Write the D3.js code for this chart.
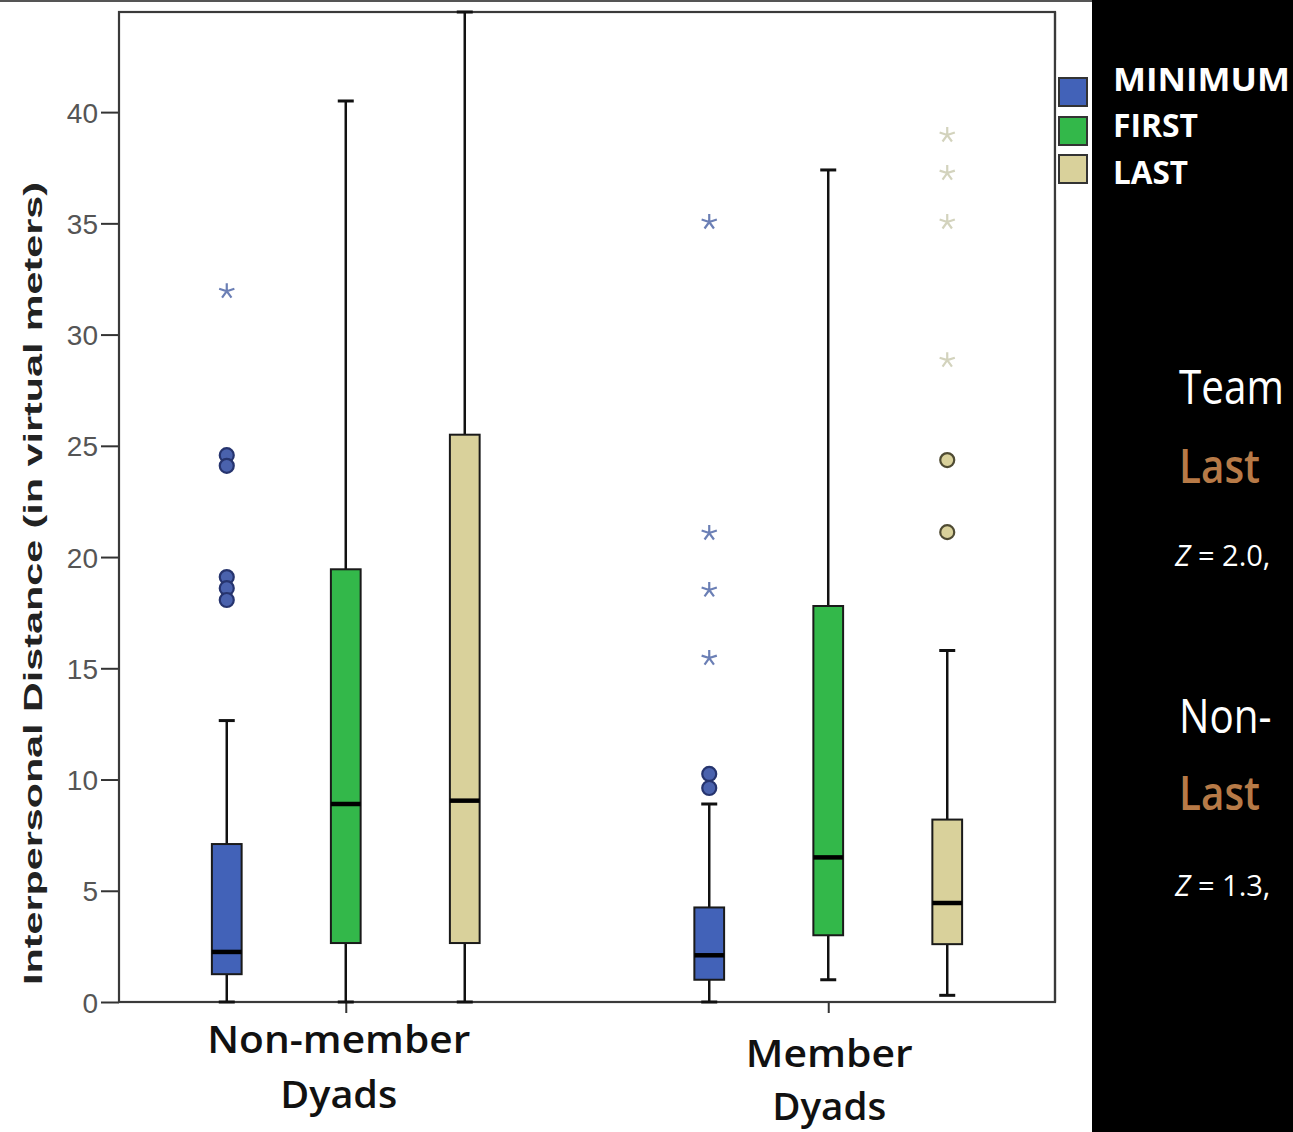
<!DOCTYPE html>
<html>
<head>
<meta charset="utf-8">
<script src="https://cdn.jsdelivr.net/npm/d3@7"></script>
<style>
  html, body { margin: 0; padding: 0; background: #000; }
  svg { display: block; }
</style>
</head>
<body>
<svg id="chart" width="1293" height="1132"></svg>
<script>
// Dyad groups on the x axis (each label is split over two lines)
const groups = ["Non-member Dyads", "Member Dyads"];
const groupLines = [["Non-member", "Dyads"], ["Member", "Dyads"]];

// Measurement series, one box per series within each group
const seriesNames = ["MINIMUM", "FIRST", "LAST"];
const seriesColors = ["#4262b8", "#33b84a", "#d9d19b"];

// Box statistics per group: [lower whisker, Q1, median, Q3, upper whisker]
const minimumBox = [[0, 1.25, 2.25, 7.1, 12.65], [0, 1.0, 2.1, 4.25, 8.9]];
const firstBox   = [[0, 2.65, 8.9, 19.45, 40.5], [1.0, 3.0, 6.5, 17.8, 37.4]];
const lastBox    = [[0, 2.65, 9.05, 25.5, 44.5], [0.3, 2.6, 4.45, 8.2, 15.8]];

// Outliers (circles) and extreme values (stars) per group
const minimumOutliers = [[24.58, 24.1, 19.1, 18.6, 18.07], [10.25, 9.62]];
const minimumExtremes = [[31.95], [35.06, 21.08, 18.52, 15.46]];
const firstOutliers   = [[], []];
const firstExtremes   = [[], []];
const lastOutliers    = [[], [24.36, 21.12]];
const lastExtremes    = [[], [38.97, 37.26, 35.06, 28.85]];

// Y axis ticks
const yTicks = [0, 5, 10, 15, 20, 25, 30, 35, 40];
const yMax = 44.5;
const yTitle = "Interpersonal Distance (in virtual meters)";

// Side notes on the dark panel
const noteLines = [
  { text: "Team", kind: "head" },
  { text: "Last", kind: "accent" },
  { z: "2.0,", kind: "stat" },
  { text: "Non-", kind: "head" },
  { text: "Last", kind: "accent" },
  { z: "1.3,", kind: "stat" }
];

const boxes = [minimumBox, firstBox, lastBox];
const outliers = [minimumOutliers, firstOutliers, lastOutliers];
const extremes = [minimumExtremes, firstExtremes, lastExtremes];

const svg = d3.select("#chart");
const W = 1293, H = 1132;
const plot = { left: 119, right: 1055, top: 12, bottom: 1002 };

// Backgrounds: white chart area, black slide panel on the right
svg.append("rect").attr("x", 0).attr("y", 0).attr("width", W).attr("height", H).attr("fill", "#000");
svg.append("rect").attr("x", 0).attr("y", 0).attr("width", 1092).attr("height", H).attr("fill", "#fff");
svg.append("line").attr("x1", 0).attr("x2", 1092).attr("y1", 1).attr("y2", 1)
  .attr("stroke", "#555").attr("stroke-width", 2);

// Scales
const x = d3.scalePoint().domain(groups).range([plot.left, plot.right]).padding(0.47);
const inner = d3.scaleBand().domain(seriesNames).range([-178.5, 178.5]);
const y = d3.scaleLinear().domain([0, yMax]).range([plot.bottom, plot.top]);
const boxW = inner.bandwidth() * 0.25;
const capW = 16;

// Y axis
const yAxis = svg.append("g")
  .attr("transform", `translate(${plot.left},0)`)
  .call(d3.axisLeft(y).tickValues(yTicks).tickSize(18).tickPadding(3).tickFormat(d3.format("d")));
yAxis.select(".domain").remove();
yAxis.selectAll(".tick line").attr("stroke", "#333").attr("stroke-width", 2);
yAxis.selectAll(".tick text")
  .attr("fill", "#555")
  .style("font-family", "'Liberation Sans', Arial, sans-serif")
  .style("font-size", "28px")
  .attr("dy", "0.36em");

// X axis ticks
const xAxis = svg.append("g")
  .attr("transform", `translate(0,${plot.bottom})`)
  .call(d3.axisBottom(x).tickSize(11).tickFormat(""));
xAxis.select(".domain").remove();
xAxis.selectAll(".tick line").attr("stroke", "#333").attr("stroke-width", 2);

// Plot frame
svg.append("rect")
  .attr("x", plot.left).attr("y", plot.top)
  .attr("width", plot.right - plot.left).attr("height", plot.bottom - plot.top)
  .attr("fill", "none").attr("stroke", "#3a3a3a").attr("stroke-width", 2.2);

// Y axis title
svg.append("text")
  .attr("transform", `translate(42,${(182 + 985) / 2}) rotate(-90)`)
  .attr("text-anchor", "middle")
  .attr("textLength", 803).attr("lengthAdjust", "spacingAndGlyphs")
  .style("font-family", "'Liberation Sans', Arial, sans-serif")
  .style("font-weight", "bold")
  .style("font-size", "26px")
  .attr("fill", "#222")
  .text(yTitle);

// Category labels (two lines each)
const labelBaselines = [[1053, 1108], [1067, 1120]];
const labelWidths = [[263, 117], [167, 114]];
groups.forEach((g, gi) => {
  groupLines[gi].forEach((line, li) => {
    svg.append("text")
      .attr("x", x(g) - 7 + gi * 8)
      .attr("y", labelBaselines[gi][li])
      .attr("text-anchor", "middle")
      .attr("textLength", labelWidths[gi][li]).attr("lengthAdjust", "spacingAndGlyphs")
      .style("font-family", "'Open Sans', sans-serif")
      .style("font-weight", 600)
      .style("font-size", "38px")
      .attr("fill", "#111")
      .text(line);
  });
});

// Five-armed asterisk used for extreme values
const asterisk = {
  draw(ctx, size) {
    const r = Math.sqrt(size) / 2;
    for (let k = 0; k < 5; k++) {
      const a = -Math.PI / 2 + k * 2 * Math.PI / 5;
      ctx.moveTo(0, 0);
      ctx.lineTo(r * Math.cos(a), r * Math.sin(a));
    }
  }
};
const starPath = d3.symbol().type(asterisk).size(256)();
const starColors = ["#6b7fb5", "#6fb87a", "#d3d3bd"];
const circleStroke = ["#26346e", "#1f6a2b", "#4f4b33"];

// Boxes
groups.forEach((g, gi) => {
  seriesNames.forEach((s, si) => {
    const [lo, q1, med, q3, hi] = boxes[si][gi];
    const cx = x(g) + inner(s) + inner.bandwidth() / 2;
    const grp = svg.append("g");

    // whiskers
    grp.append("line").attr("x1", cx).attr("x2", cx).attr("y1", y(hi)).attr("y2", y(q3))
      .attr("stroke", "#111").attr("stroke-width", 2.5);
    grp.append("line").attr("x1", cx).attr("x2", cx).attr("y1", y(q1)).attr("y2", y(lo))
      .attr("stroke", "#111").attr("stroke-width", 2.5);
    [lo, hi].forEach(v => {
      grp.append("line").attr("x1", cx - capW / 2).attr("x2", cx + capW / 2)
        .attr("y1", y(v)).attr("y2", y(v))
        .attr("stroke", "#111").attr("stroke-width", 3);
    });

    // box
    grp.append("rect")
      .attr("x", cx - boxW / 2).attr("y", y(q3))
      .attr("width", boxW).attr("height", y(q1) - y(q3))
      .attr("fill", seriesColors[si]).attr("stroke", "#1a1a1a").attr("stroke-width", 2);
    grp.append("line")
      .attr("x1", cx - boxW / 2).attr("x2", cx + boxW / 2)
      .attr("y1", y(med)).attr("y2", y(med))
      .attr("stroke", "#000").attr("stroke-width", 4.5);

    // outliers
    grp.selectAll("circle.out").data(outliers[si][gi]).join("circle")
      .attr("class", "out")
      .attr("cx", cx).attr("cy", d => y(d)).attr("r", 7)
      .attr("fill", si === 0 ? "#4a62ad" : seriesColors[si])
      .attr("stroke", circleStroke[si]).attr("stroke-width", 2.2);

    // extremes
    grp.selectAll("path.ext").data(extremes[si][gi]).join("path")
      .attr("class", "ext")
      .attr("d", starPath)
      .attr("transform", d => `translate(${cx},${y(d)})`)
      .attr("fill", "none")
      .attr("stroke", starColors[si]).attr("stroke-width", 2.2);
  });
});

// Legend on the dark panel
const legendTop = [78, 117, 155];
const legendBase = [91, 137, 184];
const legendWidths = [177, 85, 75];
svg.append("rect").attr("x", 1055).attr("y", 60).attr("width", 37).attr("height", 140).attr("fill", "#fff");
svg.append("line").attr("x1", 1055).attr("x2", 1055).attr("y1", 12).attr("y2", plot.bottom)
  .attr("stroke", "#3a3a3a").attr("stroke-width", 2.2);
seriesNames.forEach((s, i) => {
  svg.append("rect")
    .attr("x", 1059).attr("y", legendTop[i]).attr("width", 28).attr("height", 28)
    .attr("fill", seriesColors[i]).attr("stroke", "#333").attr("stroke-width", 2);
  svg.append("text")
    .attr("x", 1113).attr("y", legendBase[i])
    .attr("textLength", legendWidths[i]).attr("lengthAdjust", "spacingAndGlyphs")
    .style("font-family", "'Open Sans', sans-serif")
    .style("font-weight", 700)
    .style("font-size", "33px")
    .attr("fill", "#fff")
    .text(s);
});

// Notes: large lines are drawn narrower with a horizontal scale
const noteBase = [404, 483, 566, 733, 810, 896];
noteLines.forEach((n, i) => {
  if (n.kind === "stat") {
    const t = svg.append("text")
      .attr("x", 1175).attr("y", noteBase[i])
      .style("font-family", "'Open Sans', sans-serif")
      .style("font-size", "29px").attr("fill", "#fff");
    t.append("tspan").style("font-style", "italic").text("Z");
    t.append("tspan").text(" = " + n.z);
  } else {
    svg.append("text")
      .attr("transform", `translate(1179,${noteBase[i]}) scale(0.86,1)`)
      .style("font-family", "'Open Sans', sans-serif")
      .style("font-size", "47px")
      .style("font-weight", n.kind === "accent" ? 600 : 400)
      .attr("fill", n.kind === "accent" ? "#b77a47" : "#fff")
      .text(n.text);
  }
});
</script>
</body>
</html>
